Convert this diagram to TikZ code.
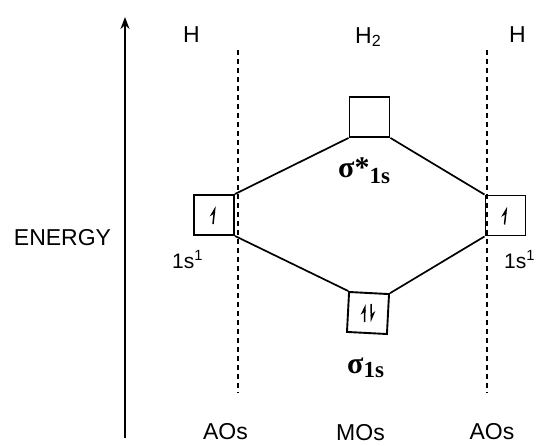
\documentclass[tikz,border=0pt]{standalone}
\usepackage{fontspec}
\setmainfont{Liberation Sans}
\newfontfamily\serifb{Liberation Serif}
\usetikzlibrary{arrows.meta,calc}
\begin{document}
\begin{tikzpicture}[x=1pt,y=-1pt,
  orb/.style={draw,line width=1.9pt,minimum size=40pt,inner sep=0pt},
  conn/.style={line width=1.7pt},
  guide/.style={line width=1.6pt,dash pattern=on 5pt off 4pt},
  lbl/.style={font=\fontsize{23}{26}\selectfont,inner sep=0pt},
  sml/.style={font=\fontsize{21}{24}\selectfont,inner sep=0pt},
  mo/.style={font=\serifb\bfseries\fontsize{30}{33}\selectfont,inner sep=0pt},
  harp/.style={line width=1.5pt,-{Stealth[left,length=9pt,width=8pt]}}]
\useasboundingbox (0,0) rectangle (541,445);
% energy axis
\coordinate (e1) at (125,438);
\coordinate (e2) at (125,17);
\draw[line width=1.7pt,-{Stealth[length=12pt,width=9pt]}] (e1) -- (e2);
\node[lbl] (energy) at (62.5,237.5) {ENERGY};
% guides
\coordinate (gl1) at (238,50); \coordinate (gl2) at (238,393);
\coordinate (gr1) at (487,50); \coordinate (gr2) at (487,393);
\draw[guide] (gl1) -- (gl2);
\draw[guide] (gr1) -- (gr2);
% headings
\node[lbl,anchor=base] (hl) at (191.5,42) {H};
\node[lbl,anchor=base west] (h2) at (355,43) {H\textsubscript{2}};
\node[lbl,anchor=base] (hr) at (517.5,42) {H};
\node[lbl,anchor=base] (aol) at (225.5,439) {AOs};
\node[lbl,anchor=base] (mos) at (360.5,440) {MOs};
\node[lbl,anchor=base] (aor) at (492,439) {AOs};
% orbitals
\node[orb] (L) at (214,215) {};
\node[orb] (R) at (505.5,215.5) {};
\node[orb] (T) at (369.5,117) {};
\node[orb,rotate=-3] (B) at (368,313) {};
% connectors
\draw[conn] (L.north east) -- (T.south west);
\draw[conn] (T.south east) -- (R.north west);
\draw[conn] (L.south east) -- (B.north west);
\draw[conn] (B.north east) -- (R.south west);
% electrons
\draw[harp] ($(L.center)+(-1,9)$) -- ($(L.center)+(1,-9)$);
\draw[harp] ($(R.center)+(-1,9)$) -- ($(R.center)+(1,-9)$);
\draw[harp] ($(B.center)+(-3.5,9)$) -- ($(B.center)+(-3,-9)$);
\draw[harp] ($(B.center)+(3,-9)$) -- ($(B.center)+(3.5,9)$);
% labels
\node[sml,anchor=base west] (sl) at (172,268) {1s\textsuperscript{1}};
\node[sml,anchor=base west] (sr) at (504,268) {1s\textsuperscript{1}};
\node[mo,anchor=base west] (sstar) at (338,177) {σ*\raisebox{-6pt}{\fontsize{23}{25}\selectfont 1s}};
\node[mo,anchor=base west] (s) at (347,373) {σ\raisebox{-4pt}{\fontsize{23}{25}\selectfont 1s}};
\end{tikzpicture}
\end{document}
